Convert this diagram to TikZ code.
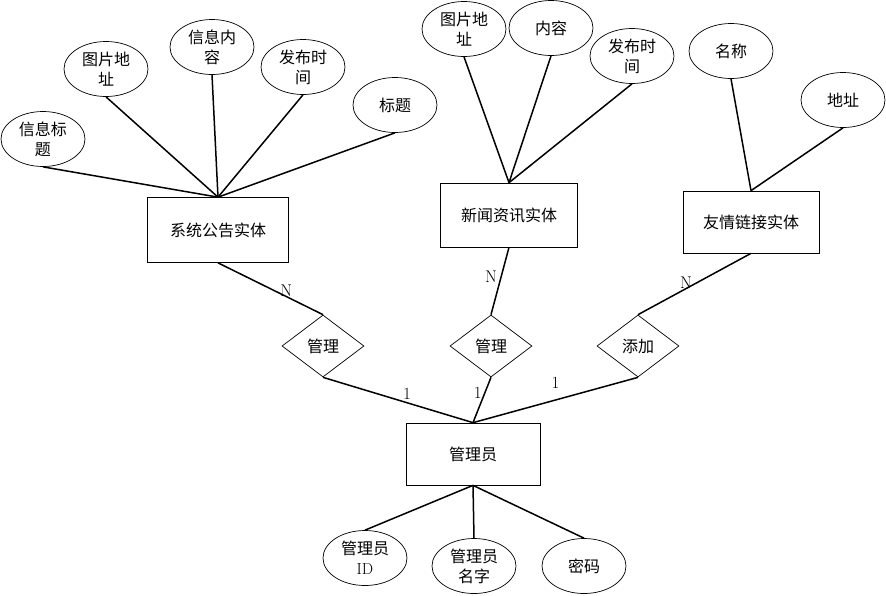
\documentclass[tikz,border=0pt]{standalone}
\usepackage{fontspec}
\usepackage{tikz}
\usetikzlibrary{shapes.geometric}
\newfontfamily\cjk{Noto Sans CJK SC}
\tikzset{
  entity/.style={rectangle, draw=black, line width=0.7pt, inner sep=0pt, font=\cjk\fontsize{16}{20}\selectfont},
  attr/.style={ellipse, draw=black, line width=0.7pt, inner sep=0pt, align=center,
    minimum width=84pt, minimum height=55pt, font=\cjk\fontsize{16}{20}\selectfont},
  rel/.style={diamond, draw=black, line width=0.7pt, inner sep=0pt,
    minimum width=82pt, minimum height=62pt, font=\cjk\fontsize{16}{20}\selectfont},
  link/.style={line width=1.5pt, draw=black},
  card/.style={inner sep=0pt, font=\fontsize{17}{17}\selectfont}
}

\begin{document}
\begin{tikzpicture}[x=1pt,y=-1pt]
  \useasboundingbox (0,0) rectangle (886,595);
  % entities
  \node[entity, minimum width=141pt, minimum height=65pt] (notice) at (218,230) {系统公告实体};
  \node[entity, minimum width=137pt, minimum height=64pt] (news)   at (509,215) {新闻资讯实体};
  \node[entity, minimum width=136pt, minimum height=62pt] (flink)  at (751,222) {友情链接实体};
  \node[entity, minimum width=134pt, minimum height=62pt] (admin)  at (473,454) {管理员};
  % attributes of notice
  \node[attr] (ntitle)  at (43,139)  {信息标\\题};
  \node[attr] (nimg)    at (106,69)  {图片地\\址};
  \node[attr] (ntext)   at (212,47)  {信息内\\容};
  \node[attr] (ntime)   at (303,67)  {发布时\\间};
  \node[attr] (nhead)   at (395,105) {标题};
  % attributes of news
  \node[attr] (wimg)    at (464,29)  {图片地\\址};
  \node[attr] (wtext)   at (551,28)  {内容};
  \node[attr] (wtime)   at (632,56)  {发布时\\间};
  % attributes of flink
  \node[attr] (fname)   at (731,51)  {名称};
  \node[attr] (faddr)   at (843,100) {地址};
  % attributes of admin
  \node[attr] (aid)     at (365,558) {管理员\\{\rmfamily ID}};
  \node[attr] (aname)   at (474,566) {管理员\\名字};
  \node[attr] (apwd)    at (584,566) {密码};
  % relations
  \node[rel] (rnotice) at (323,346) {管理};
  \node[rel] (rnews)   at (491,346) {管理};
  \node[rel] (rflink)  at (638,346) {添加};

  \draw[link] (ntitle.south) -- (notice.north);
  \draw[link] (nimg.south)   -- (notice.north);
  \draw[link] (ntext.south)  -- (notice.north);
  \draw[link] (ntime.south)  -- (notice.north);
  \draw[link] (nhead.south)  -- (notice.north);
  \draw[link] (wimg.south)   -- (news.north);
  \draw[link] (wtext.south)  -- (news.north);
  \draw[link] (wtime.south)  -- (news.north);
  \draw[link] (fname.south)  -- (flink.north);
  \draw[link] (faddr.south)  -- (flink.north);
  \draw[link] (admin.south)  -- (aid.north);
  \draw[link] (admin.south)  -- (aname.north);
  \draw[link] (admin.south)  -- (apwd.north);

  % cardinalities
  \draw[link] (notice.south) -- (rnotice.north) node[card, pos=0.65, yshift=6pt] {N};
  \draw[link] (news.south)   -- (rnews.north)   node[card, pos=0.44, xshift=-10pt] {N};
  \draw[link] (flink.south)  -- (rflink.north)  node[card, pos=0.575, yshift=6pt] {N};
  \draw[link] (rnotice.south) -- (admin.north)  node[card, pos=0.56, yshift=9pt] {1};
  \draw[link] (rnews.south)   -- (admin.north)  node[card, pos=0.35, xshift=-7pt] {1};
  \draw[link] (rflink.south)  -- (admin.north)  node[card, pos=0.5, yshift=17pt] {1};
\end{tikzpicture}
\end{document}
